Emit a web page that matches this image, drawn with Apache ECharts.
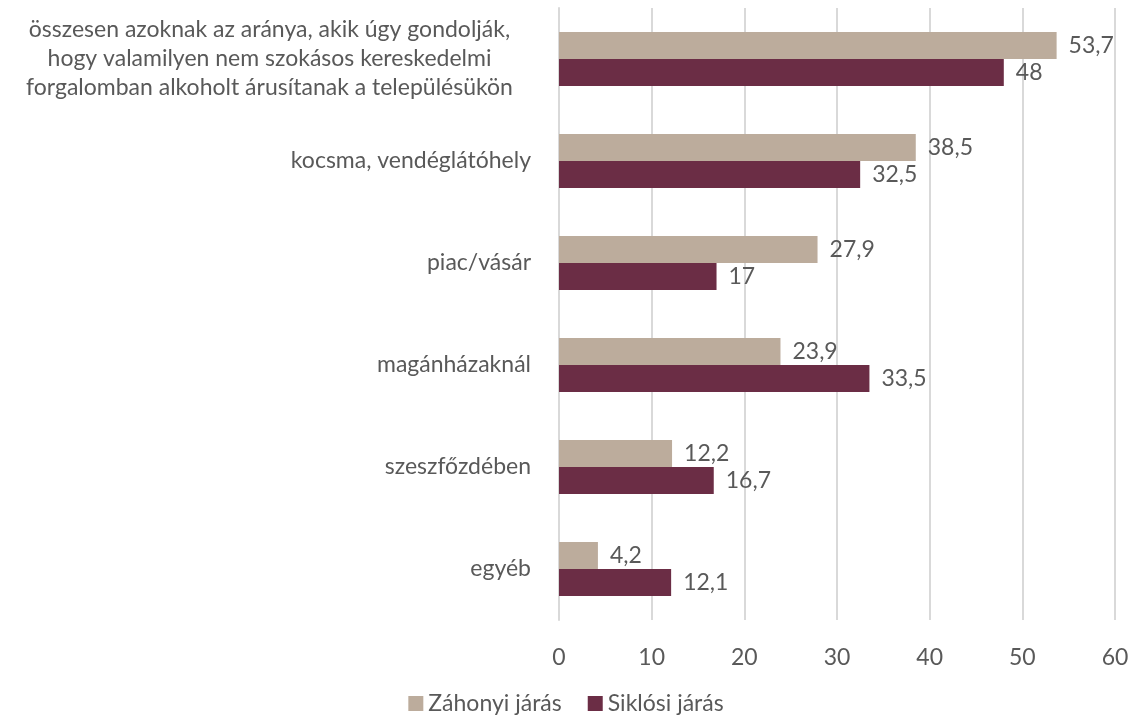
<!DOCTYPE html>
<html>
<head>
<meta charset="utf-8">
<script src="https://cdn.jsdelivr.net/npm/echarts@6/dist/echarts.min.js"></script>
<style>
  html, body { margin: 0; padding: 0; background: #fff; }
  #chart { width: 1132px; height: 722px; }
</style>
</head>
<body>
<div id="chart"></div>
<script>
const categories = [
  'összesen azoknak az aránya, akik úgy gondolják,\nhogy valamilyen nem szokásos kereskedelmi\nforgalomban alkoholt árusítanak a településükön',
  'kocsma, vendéglátóhely',
  'piac/vásár',
  'magánházaknál',
  'szeszfőzdében',
  'egyéb'
]
const zahonyi = [53.7, 38.5, 27.9, 23.9, 12.2, 4.2]
const siklosi = [48, 32.5, 17, 33.5, 16.7, 12.1]
const seriesNames = ['Záhonyi járás', 'Siklósi járás']

const textColor = '#595959'
const font = 'Lato, "Open Sans", sans-serif'
const fsize = 23

const chart = echarts.init(document.getElementById('chart'))

// vesszős tizedes jel a feliratokon
function fmt(v) {
  return String(v).replace('.', ',')
}

const labelStyle = {
  show: true,
  position: 'right',
  distance: 12,
  color: textColor,
  fontFamily: font,
  fontSize: fsize,
  formatter: (p) => fmt(p.value)
}

chart.setOption({
  animation: false,
  textStyle: { fontFamily: font },
  grid: { left: 559, right: 17, top: 8, bottom: 102, containLabel: false },
  legend: {
    bottom: 2,
    left: 'center',
    itemWidth: 15,
    itemHeight: 15,
    itemGap: 26,
    icon: 'rect',
    textStyle: { color: textColor, fontSize: fsize, fontFamily: font },
    data: seriesNames
  },
  xAxis: {
    type: 'value',
    min: 0,
    max: 60,
    interval: 10,
    axisLine: { show: false },
    axisTick: { show: false },
    splitLine: { lineStyle: { color: '#d9d9d9', width: 2 } },
    axisLabel: { color: textColor, fontSize: fsize, fontFamily: font, margin: 26 }
  },
  yAxis: {
    type: 'category',
    inverse: true,
    data: categories,
    axisLine: { lineStyle: { color: '#d9d9d9', width: 2 } },
    axisTick: { show: false },
    axisLabel: {
      color: textColor,
      fontSize: fsize,
      fontFamily: font,
      margin: 28,
      formatter: (v, i) => (i === 0 ? '{c|' + v.split('\n').join('}\n{c|') + '}' : v),
      rich: {
        c: { width: 523, align: 'center', lineHeight: 29, fontSize: fsize, color: textColor, fontFamily: font }
      }
    }
  },
  series: [
    {
      name: seriesNames[0],
      type: 'bar',
      data: zahonyi,
      barGap: '0%',
      barCategoryGap: '47%',
      itemStyle: { color: '#bcac9c' },
      label: labelStyle
    },
    {
      name: seriesNames[1],
      type: 'bar',
      data: siklosi,
      itemStyle: { color: '#6b2d45' },
      label: labelStyle
    }
  ]
})
</script>
</body>
</html>
